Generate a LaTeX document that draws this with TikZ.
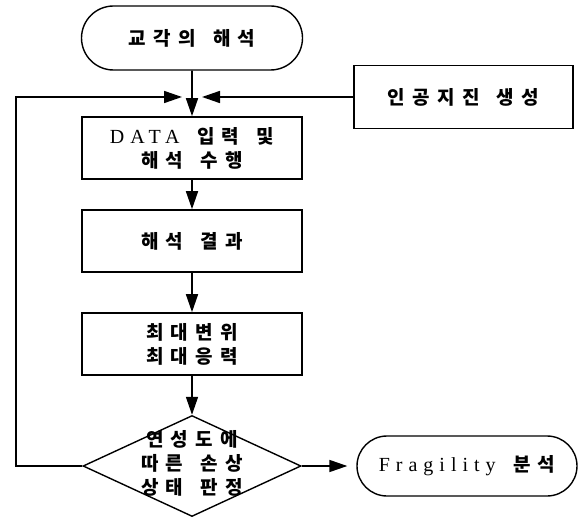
\documentclass[tikz,border=0pt]{standalone}
\usepackage{fontspec}
\setmainfont{Liberation Serif}
\newfontfamily\kr{Noto Sans CJK KR}[LetterSpace=38,WordSpace=1.5]
\newfontfamily\latfont{Liberation Serif}[LetterSpace=30]
\newcommand\lat[1]{{\latfont\mdseries\fontsize{20}{24}\selectfont #1}}
\usetikzlibrary{shapes.geometric,shapes.misc,arrows.meta}

% text inside the diamond may run over its edges, as in the scan
\newcommand\judgetext[1]{\smash{\makebox[0pt]{\raisebox{-4pt}{\begin{tabular}{@{}c@{}}#1\end{tabular}}}}}

\tikzset{
  box/.style={draw, line width=1.6pt, minimum width=220pt, minimum height=62pt,
    inner sep=0pt, align=center},
  terminal/.style={draw, rounded rectangle, line width=1.4pt, minimum width=221pt,
    minimum height=64pt, inner sep=0pt},
  judge/.style={draw, diamond, line width=1.4pt, minimum width=218pt,
    minimum height=101pt, inner sep=0pt},
  flow/.style={-{Triangle[length=18pt,width=12pt]}, line width=1.6pt}
}

\begin{document}
\begin{tikzpicture}[x=1pt,y=-1pt,font=\kr\bfseries\fontsize{19}{24}\selectfont]
  \useasboundingbox (0,0) rectangle (580,518);
  \node[terminal] (start) at (192,38) {교각의 해석};
  \node[box, minimum width=219pt, minimum height=63pt] (quake) at (463.5,97) {인공지진 생성};
  \node[box] (data) at (192,148) {\lat{DATA} 입력 및\\해석 수행};
  \node[box] (result) at (192,241) {해석 결과};
  \node[box] (peak) at (192,344) {최대변위\\최대응력};
  \node[judge] (judge) at (192,466) {\judgetext{연성도에\\따른 손상\\상태 판정}};
  \node[terminal, minimum width=220pt, minimum height=60pt] (frag) at (467,466) {\lat{Fragility} 분석};
  \coordinate (loop) at (16,97);
  \coordinate (inL) at (182,97);
  \coordinate (inR) at (202,97);
  \begin{scope}[flow]
    \draw (start) -- (data);
    \draw (data) -- (result);
    \draw (result) -- (peak);
    \draw (peak) -- (judge);
    \draw (judge.west) -| (loop) -- (inL);
    \draw (quake) -- (inR);
    \draw[shorten >=9pt] (judge) -- (frag);
  \end{scope}
\end{tikzpicture}
\end{document}
